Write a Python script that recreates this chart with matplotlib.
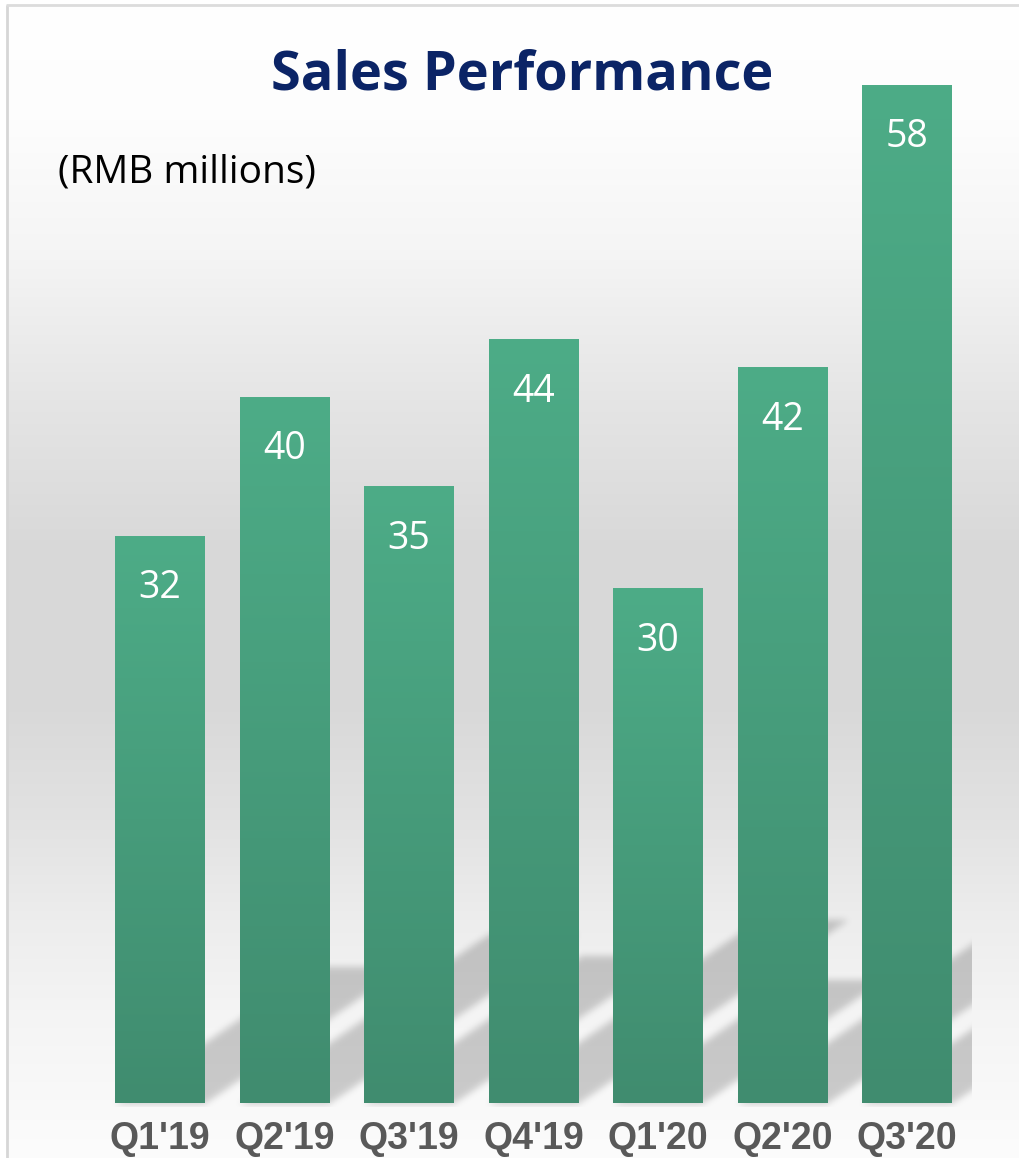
import numpy as np
import matplotlib
matplotlib.use("Agg")
import matplotlib.pyplot as plt
from matplotlib import font_manager

# ---------------- data ----------------
categories = ["Q1'19", "Q2'19", "Q3'19", "Q4'19", "Q1'20", "Q2'20", "Q3'20"]
values = [32.3, 40.2, 35.1, 43.5, 29.3, 41.9, 58.0]   # bar heights
value_labels = ["32", "40", "35", "44", "30", "42", "58"]
title = "Sales Performance"
subtitle = "(RMB millions)"

W, H = 1020, 1158
DPI = 100

def has_font(name):
    try:
        font_manager.findfont(font_manager.FontProperties(family=name), fallback_to_default=False)
        return True
    except Exception:
        return False

title_font = "Open Sans" if has_font("Open Sans") else "DejaVu Sans"
tick_font = ["Liberation Sans", "DejaVu Sans"]

fig = plt.figure(figsize=(W / DPI, H / DPI), dpi=DPI)
fig.patch.set_facecolor("white")

# ---------------- background axes (image coords) ----------------
ax_bg = fig.add_axes([0, 0, 1, 1])
ax_bg.set_xlim(0, W)
ax_bg.set_ylim(H, 0)
ax_bg.axis("off")

stops_y = np.array([0, 120, 250, 400, 540, 700, 820, 920, 1010, 1100, 1158])
stops_v = np.array([255, 253, 245, 229, 217, 216, 226, 237, 244, 249, 252]) / 255.0
ys = np.arange(6, H)
grey = np.interp(ys, stops_y, stops_v)
grad = np.repeat(grey[:, None], 2, axis=1)
grad_rgb = np.dstack([grad, grad, grad])
ax_bg.imshow(grad_rgb, extent=(8, W, H, 6), origin="upper", aspect="auto",
             interpolation="bilinear", zorder=0)
# frame lines
ax_bg.plot([7, 7], [5, H], color="#d6d6d6", lw=2, zorder=1, solid_capstyle="butt")
ax_bg.plot([6, W], [5, 5], color="#dcdcdc", lw=2, zorder=1, solid_capstyle="butt")

# ---------------- main axes ----------------
x_left_px, x_right_px = 97.75, 969.25
base_px = 1103
scale = (1103 - 85) / 58.0
ymax = 60
ax = fig.add_axes([x_left_px / W, (H - base_px) / H,
                   (x_right_px - x_left_px) / W, ymax * scale / H])
ax.patch.set_alpha(0)
x = np.arange(len(categories))
bar_w = 0.715
bars = ax.bar(x, values, width=bar_w, color="none", edgecolor="none", zorder=2)

top_col = np.array([77, 172, 135]) / 255.0
bot_col = np.array([64, 140, 111]) / 255.0
for b in bars:
    x0, w, h = b.get_x(), b.get_width(), b.get_height()
    t = np.linspace(0, 1, 256)[:, None]
    col = top_col[None, :] * (1 - t) + bot_col[None, :] * t
    img = np.repeat(col[:, None, :], 2, axis=1)
    ax.imshow(img, extent=(x0, x0 + w, 0, h), origin="upper", aspect="auto",
              interpolation="bilinear", zorder=2)
ax.set_xlim(-0.5, len(categories) - 0.5)
ax.set_ylim(0, ymax)

for b, lab in zip(bars, value_labels):
    ax.annotate(lab, (b.get_x() + b.get_width() / 2, b.get_height()),
                xytext=(0, -52 * 72 / DPI), textcoords="offset points",
                ha="center", va="center", color="white", fontsize=27,
                family=title_font, zorder=3)

ax.set_xticks(x, categories)
ax.tick_params(axis="x", length=0, pad=13)
for tl in ax.get_xticklabels():
    tl.set_fontsize(27)
    tl.set_fontweight("bold")
    tl.set_family(tick_font)
    tl.set_color("#595959")
ax.set_yticks([])
for s in ax.spines.values():
    s.set_visible(False)

# ---------------- shadows (computed from bar geometry) ----------------
fig.canvas.draw()
tr = ax.transData
y0_img = 820
sh_h = base_px + 4 - y0_img
sh_w = W
yy, xx = np.mgrid[y0_img:y0_img + sh_h, 0:sh_w]
mask = np.zeros(yy.shape)
slope = 0.68
for b in bars:
    (l, bt), (r, tp) = tr.transform([(b.get_x(), 0), (b.get_x() + b.get_width(), b.get_height())])
    bt_img = H - bt
    hpx = tp - bt
    Hs = 0.24 * hpx
    t = bt_img - yy
    inside = (t >= 0) & (t <= Hs) & (xx >= l + t / slope) & (xx <= r + t / slope)
    mask = np.maximum(mask, inside.astype(float))
sig = 3.5
k = np.arange(-12, 13)
kern = np.exp(-k ** 2 / (2 * sig ** 2))
kern /= kern.sum()
mask = np.apply_along_axis(lambda m: np.convolve(m, kern, mode="same"), 0, mask)
mask = np.apply_along_axis(lambda m: np.convolve(m, kern, mode="same"), 1, mask)
mask[:, 972:] = 0
rgba = np.zeros(mask.shape + (4,))
rgba[..., 3] = mask * 0.19
ax_bg.imshow(rgba, extent=(0, sh_w, y0_img + sh_h, y0_img), origin="upper",
             aspect="auto", interpolation="nearest", zorder=1.5)
ax_bg.set_xlim(0, W)
ax_bg.set_ylim(H, 0)

# ---------------- texts ----------------
fig.text(522 / W, 1 - 75 / H, title, ha="center", va="center", fontsize=39,
         fontweight="bold", color="#0b2466", family=title_font)
fig.text(58 / W, 1 - 172 / H, subtitle, ha="left", va="center", fontsize=28,
         color="black", family=title_font)

fig.savefig("out.png", dpi=DPI)
